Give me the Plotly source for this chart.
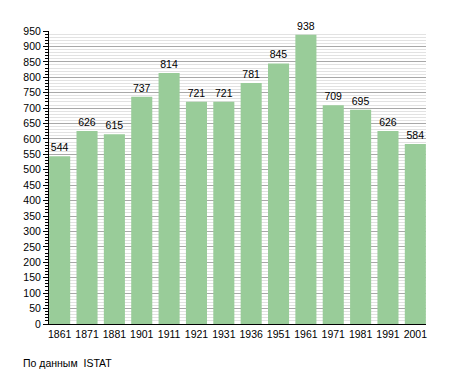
import plotly.graph_objects as go

years = ["1861", "1871", "1881", "1901", "1911", "1921", "1931", "1936", "1951", "1961", "1971", "1981", "1991", "2001"]
population = [544, 626, 615, 737, 814, 721, 721, 781, 845, 938, 709, 695, 626, 584]

fig = go.Figure(go.Bar(
    x=years, y=population,
    marker=dict(color="#99cc99", line=dict(width=0)),
    text=[str(v) for v in population], textposition="outside",
    textfont=dict(size=10.5, color="#000000"),
    cliponaxis=False,
))

# page body has an 8px default margin; compensate
fig.update_layout(
    width=447, height=365,
    margin=dict(l=41, r=29, t=23, b=49),
    paper_bgcolor="white", plot_bgcolor="white",
    font=dict(family="Liberation Sans, Arial, sans-serif", size=10.5, color="#000000"),
    bargap=0.23,
    showlegend=False,
    xaxis=dict(type="category", range=[-0.39, len(years) - 1 + 0.39],
               showline=True, linecolor="#000000", linewidth=1,
               ticks="", tickfont=dict(size=10.5), showgrid=False),
    yaxis=dict(range=[0, 950], dtick=50, showline=True, linecolor="#000000", linewidth=1,
               ticks="outside", ticklen=5, tickcolor="#000000", tickwidth=1,
               showgrid=True, gridcolor="#a8a8a8", gridwidth=1, zeroline=False,
               tickfont=dict(size=10.5),
               minor=dict(dtick=10, showgrid=True, gridcolor="#e2e2e2", ticks="outside",
                          ticklen=3, tickcolor="#000000")),
    annotations=[dict(text="По данным  ISTAT", xref="paper", yref="paper",
                      x=-0.074, y=-0.133, xanchor="left", yanchor="middle",
                      showarrow=False, font=dict(size=10.5))],
)

fig.write_html("out.html")
